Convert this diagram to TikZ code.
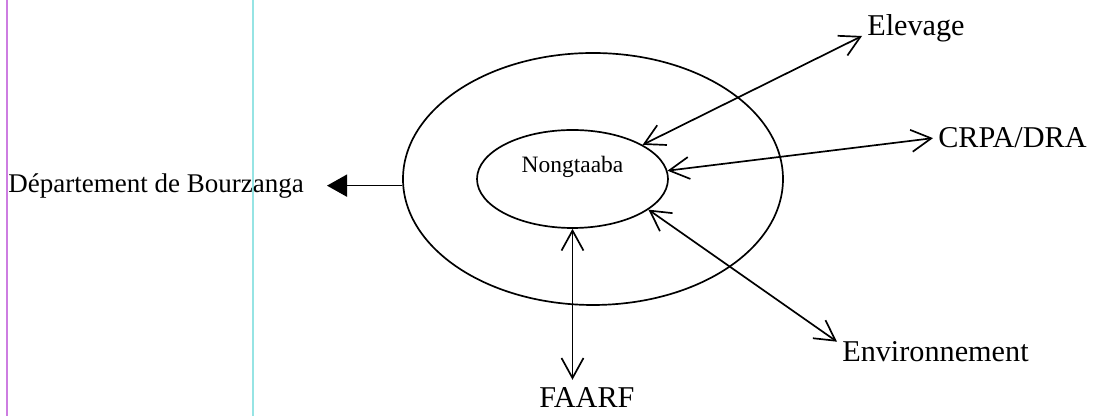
\documentclass[tikz,border=0pt]{standalone}
\usepackage{fontspec}
\setmainfont{Liberation Serif}
\usetikzlibrary{arrows.meta,shapes.geometric}
\definecolor{guidemag}{RGB}{205,125,225}
\definecolor{guidecyan}{RGB}{150,228,228}
\tikzset{link/.style={{Straight Barb[length=5mm,width=5.5mm]}-{Straight Barb[length=5mm,width=5.5mm]}, line width=1.2pt},
  push/.style={-{Triangle[length=5mm,width=5.5mm]}, line width=1.2pt},
  ring/.style={draw, ellipse, inner sep=0pt, line width=1.2pt},
  lbl/.style={font=\fontsize{21.5pt}{25pt}\selectfont, inner xsep=1.25mm, inner ysep=0pt}}

\begin{document}
\begin{tikzpicture}
  \useasboundingbox (0,0) rectangle (27.525,10.4);
  % margin guides of the scanned page
  \draw[guidemag, line width=1pt] (0.175,0) -- (0.175,10.4);
  \draw[guidecyan, line width=1pt] (6.325,0) -- (6.325,10.4);
  \node[ring, minimum width=9.5cm, minimum height=6.3cm] (outer) at (14.825,5.925) {};
  \node[ring, minimum width=4.775cm, minimum height=2.45cm] (inner) at (14.3125,5.925) {};
  \node[font=\fontsize{16.7pt}{20pt}\selectfont, inner sep=0pt, anchor=base] (nong) at (14.3125,6.075) {Nongtaaba};
  \node[lbl, anchor=base west] (elev) at (21.55,9.5) {Elevage};
  \node[lbl, anchor=base west] (crpa) at (23.325,6.7) {CRPA/DRA};
  \node[lbl, anchor=base west] (env) at (20.925,1.35) {Environnement};
  \node[lbl, inner ysep=2mm, anchor=base west] (faarf) at (13.35,0.2) {FAARF};
  \node[lbl, font=\fontsize{19.2pt}{23pt}\selectfont, inner xsep=5.75mm, anchor=base east] (dept) at (8.175,5.575) {Département de Bourzanga};
  \draw[link] (inner.26) -- (elev.base west);
  \draw[link] (inner.5) -- (crpa.west);
  \draw[link] (inner.-22) -- (env.north west);
  \draw[link] (inner.south) -- (inner.south |- faarf.north);
  \draw[push] (outer.182) -- (outer.182 -| dept.east);
\end{tikzpicture}
\end{document}
